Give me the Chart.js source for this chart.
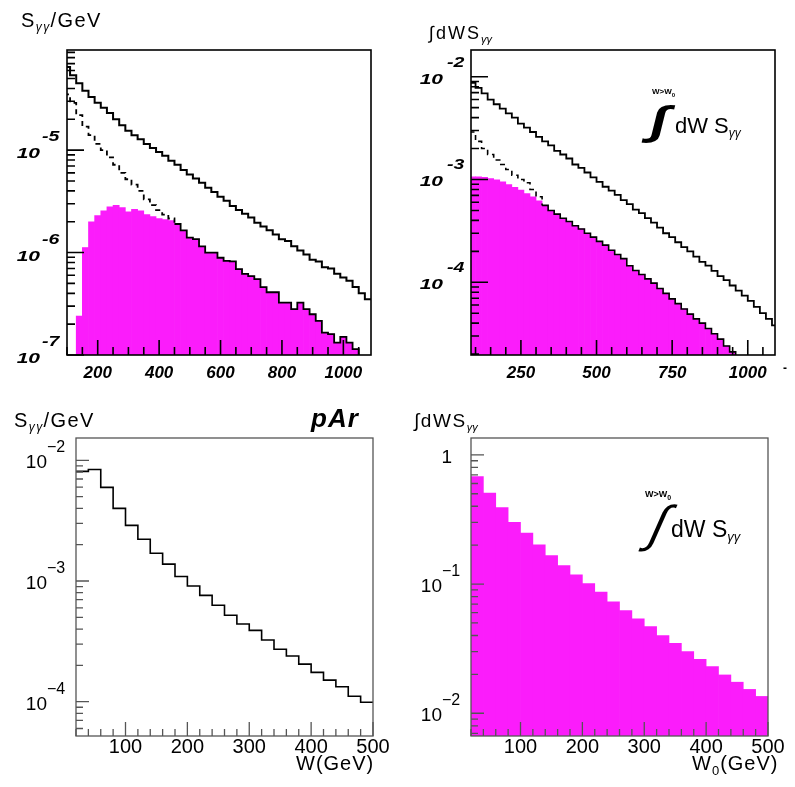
<!DOCTYPE html>
<html>
<head>
<meta charset="utf-8">
<script src="https://cdn.jsdelivr.net/npm/chart.js@4.4.1/dist/chart.umd.min.js"></script>
<style>
    body { margin: 0; background: #fff; }
    #page { position: relative; width: 795px; height: 787px; overflow: hidden; font-family: "Liberation Sans", Arial, sans-serif; }
    canvas { position: absolute; }
    .t { position: absolute; white-space: nowrap; line-height: 1; color: #000; }
    .sb { font-style: italic; position: relative; }
    .int { transform-origin: left top; }
</style>
</head>
<body>
<div id="page">
    <canvas id="c1" width="397" height="390" style="left:0;top:0"></canvas>
    <canvas id="c2" width="398" height="390" style="left:397px;top:0"></canvas>
    <canvas id="c3" width="397" height="397" style="left:0;top:390px"></canvas>
    <canvas id="c4" width="398" height="397" style="left:397px;top:390px"></canvas>

    <!-- titles -->
    <div class="t" style="left:21px;top:10px;font-size:20px;letter-spacing:1.4px">S<span class="sb" style="font-size:12px;top:4px">γγ</span>/GeV</div>
    <div class="t" style="left:429px;top:24px;font-size:18px;letter-spacing:2px">∫dWS<span class="sb" style="font-size:11px;top:4px;letter-spacing:0">γγ</span></div>
    <div class="t" style="left:14px;top:410px;font-size:20px;letter-spacing:1.4px">S<span class="sb" style="font-size:12px;top:4px">γγ</span>/GeV</div>
    <div class="t" style="left:311px;top:405px;font-size:26px;font-weight:bold;font-style:italic;letter-spacing:1px">pAr</div>
    <div class="t" style="left:414px;top:411px;font-size:19px;letter-spacing:1.6px">∫dWS<span class="sb" style="font-size:11px;top:4px;letter-spacing:0">γγ</span></div>

    <!-- integral annotations -->
    <div class="t" style="left:652px;top:88px;font-size:8px;font-weight:bold">W&gt;W<sub style="font-size:6px">0</sub></div>
    <div class="t int" style="left:656px;top:100px;font-size:40px;font-weight:bold;transform:skewX(-14deg) scaleX(1.5)">∫</div>
    <div class="t" style="left:675px;top:115px;font-size:22px">dW S<span class="sb" style="font-size:12px;top:4px">γγ</span></div>
    <div class="t" style="left:645px;top:490px;font-size:9px;font-weight:bold">W&gt;W<sub style="font-size:7px">0</sub></div>
    <div class="t int" style="left:664px;top:499px;font-size:50px;transform:skewX(-24deg)">∫</div>
    <div class="t" style="left:671px;top:518px;font-size:23px">dW S<span class="sb" style="font-size:13px;top:4px">γγ</span></div>

    <!-- x axis titles -->
    <div class="t" style="left:296px;top:753px;font-size:20px;letter-spacing:1px">W(GeV)</div>
    <div class="t" style="left:692px;top:753px;font-size:20px;letter-spacing:1px">W<sub style="font-size:13px">0</sub>(GeV)</div>
    <div class="t" style="left:783px;top:362px;font-size:12px;font-weight:bold">-</div>
</div>

<script>
// ---- top-left: S_gg / GeV, 20 GeV bins, first edge at 90 GeV
const p1Edge0 = 90;
const p1Bin = 20;
const p1XLabels = [200, 400, 600, 800, 1000];
const p1YExps = [-7, -6, -5];
const p1Solid = [6.5e-5, 5.4e-5, 4.5e-5, 3.8e-5, 3.3e-5, 2.9e-5, 2.6e-5, 2.3e-5, 2.0e-5, 1.75e-5,
    1.55e-5, 1.4e-5, 1.28e-5, 1.15e-5, 1.05e-5, 9.6e-6, 8.8e-6, 7.9e-6, 7.2e-6, 6.4e-6,
    5.8e-6, 5.3e-6, 4.8e-6, 4.3e-6, 3.9e-6, 3.5e-6, 3.2e-6, 2.85e-6, 2.6e-6, 2.4e-6,
    2.2e-6, 1.95e-6, 1.8e-6, 1.65e-6, 1.5e-6, 1.35e-6, 1.3e-6, 1.15e-6, 1.05e-6, 9.6e-7,
    8.5e-7, 8.2e-7, 7.2e-7, 7.0e-7, 6.2e-7, 5.7e-7, 5.3e-7, 4.6e-7, 4.0e-7, 3.5e-7];
// dashed curve where it sits above the filled one
const p1DashHead = [3.5e-5, 2.9e-5, 2.2e-5, 1.7e-5, 1.4e-5, 1.15e-5, 1.0e-5, 8.5e-6, 7.2e-6, 6.0e-6,
    5.2e-6, 4.6e-6, 4.0e-6, 3.3e-6, 2.9e-6, 2.6e-6, 2.35e-6, 2.15e-6];
const p1Fill = [null, null, 2.4e-7, 1.12e-6, 2.0e-6, 2.3e-6, 2.55e-6, 2.8e-6, 2.9e-6, 2.75e-6,
    2.5e-6, 2.65e-6, 2.55e-6, 2.35e-6, 2.25e-6, 2.15e-6, 2.1e-6, 2.05e-6, 1.9e-6, 1.65e-6,
    1.4e-6, 1.35e-6, 1.15e-6, 1.0e-6, 1.0e-6, 8.9e-7, 8.3e-7, 8.2e-7, 6.9e-7, 6.2e-7,
    5.9e-7, 5.5e-7, 4.6e-7, 4.1e-7, 4.1e-7, 3.25e-7, 3.25e-7, 2.8e-7, 3.25e-7, 2.8e-7,
    2.5e-7, 2.15e-7, 1.65e-7, 1.6e-7, 1.32e-7, 1.5e-7, 1.32e-7, 1.14e-7, null, null];

// ---- top-right: integral above W0, 20 GeV bins from 80 GeV
const p2Edge0 = 80;
const p2Bin = 20;
const p2XLabels = [250, 500, 750, 1000];
const p2YExps = [-4, -3, -2];
const p2Solid = [8.7e-3, 7.8e-3, 6.9e-3, 6.0e-3, 5.4e-3, 4.9e-3, 4.4e-3, 4.0e-3, 3.5e-3, 3.2e-3,
    2.9e-3, 2.6e-3, 2.35e-3, 2.15e-3, 1.9e-3, 1.75e-3, 1.6e-3, 1.4e-3, 1.3e-3, 1.17e-3,
    1.05e-3, 9.5e-4, 8.5e-4, 7.8e-4, 7.1e-4, 6.3e-4, 5.75e-4, 5.1e-4, 4.7e-4, 4.2e-4,
    3.8e-4, 3.4e-4, 3.0e-4, 2.75e-4, 2.45e-4, 2.2e-4, 2.0e-4, 1.78e-4, 1.58e-4, 1.45e-4,
    1.29e-4, 1.15e-4, 1.05e-4, 9.3e-5, 8.3e-5, 7.4e-5, 6.6e-5, 5.75e-5, 5.0e-5, 4.4e-5, 3.8e-5];
const p2DashHead = [2.9e-3, 2.35e-3, 2.0e-3, 1.75e-3, 1.55e-3, 1.4e-3, 1.25e-3, 1.1e-3, 1.0e-3, 9.3e-4,
    8.0e-4, 6.8e-4];
const p2Fill = [1.06e-3, 1.06e-3, 1.05e-3, 1.02e-3, 9.9e-4, 9.5e-4, 8.9e-4, 8.4e-4, 7.9e-4, 7.3e-4,
    6.8e-4, 6.2e-4, 5.6e-4, 5.0e-4, 4.6e-4, 4.2e-4, 3.9e-4, 3.55e-4, 3.3e-4, 3.0e-4,
    2.75e-4, 2.5e-4, 2.3e-4, 2.05e-4, 1.86e-4, 1.7e-4, 1.45e-4, 1.3e-4, 1.19e-4, 1.08e-4,
    9.8e-5, 8.7e-5, 7.8e-5, 6.9e-5, 6.2e-5, 5.5e-5, 4.9e-5, 4.4e-5, 4.0e-5, 3.55e-5,
    3.15e-5, 2.8e-5, 2.4e-5, 2.1e-5, null, null, null, null, null, null, null];

// ---- bottom row (pAr): 20 GeV bins from 20 to 500 GeV
const p3Edge0 = 20;
const p3Bin = 20;
const p3XLabels = [100, 200, 300, 400, 500];
const p3YExps = [-4, -3, -2];
const p3Solid = [8.1e-3, 8.4e-3, 5.97e-3, 4.0e-3, 2.89e-3, 2.22e-3, 1.70e-3, 1.38e-3, 1.09e-3, 9.1e-4,
    7.6e-4, 6.3e-4, 5.2e-4, 4.4e-4, 3.9e-4, 3.25e-4, 2.72e-4, 2.39e-4, 2.05e-4, 1.75e-4,
    1.51e-4, 1.33e-4, 1.11e-4, 9.9e-5];
const p4YExps = [-2, -1, 0];
const p4Fill = [0.68, 0.505, 0.39, 0.30, 0.248, 0.201, 0.166, 0.139, 0.118, 0.101,
    0.0865, 0.073, 0.0624, 0.0537, 0.0469, 0.0399, 0.0348, 0.030, 0.0262, 0.023,
    0.0198, 0.0174, 0.0153, 0.0135];

const MAGENTA = "#fb1cfb";
const OFF = 1e-12; // below every axis, the outline drops out of the frame

// points at bin edges for a stepped outline
function stepPoints(edge0, bin, vals) {
    const pts = vals.map((v, i) => ({ x: edge0 + i * bin, y: v ?? OFF }));
    pts.push({ x: edge0 + vals.length * bin, y: vals[vals.length - 1] ?? OFF });
    return pts;
}

// points at bin centres for filled bars
function barPoints(edge0, bin, vals) {
    return vals.map((v, i) => ({ x: edge0 + (i + 0.5) * bin, y: v }));
}

function outline(points, width, dashUntil) {
    return {
        type: "line",
        data: points,
        borderColor: "#000",
        borderWidth: width,
        pointRadius: 0,
        stepped: true,
        fill: false,
        order: 1,
        segment: dashUntil ? { borderDash: c => (c.p0DataIndex < dashUntil ? [5, 4] : undefined) } : undefined,
    };
}

function filled(points) {
    return {
        type: "bar",
        data: points,
        backgroundColor: MAGENTA,
        borderWidth: 0,
        barPercentage: 1,
        categoryPercentage: 1,
        order: 2,
    };
}

// ROOT-like axis styles for each pad
const topStyle = {
    color: "#000", width: 1.6, xMajorLen: 15, xMinorLen: 8, yMajorLen: 17, yMinorLen: 8,
    xFont: 'italic bold 17px "Liberation Sans"', xDy: 23,
    yFont: 'italic bold 15px "Liberation Sans"', expFont: 'italic bold 15px "Liberation Sans"',
    minus: "-", stretch: 1.4, expStretch: 1.3,
};
const bottomStyle = {
    color: "#555", width: 1.3, xMajorLen: 14, xMinorLen: 7, yMajorLen: 13, yMinorLen: 7,
    xFont: '20px "Liberation Sans"', xDy: 17,
    yFont: '19px "Liberation Sans"', expFont: '16px "Liberation Sans"', minus: "\u2212",
    stretch: 1, expStretch: 1,
    yRight: 29, expLeft: 29, yDy: 8, expDy: -8, oneRight: 19,
};
const axisStyle = {
    c1: { ...topStyle, xLabels: p1XLabels, xMinor: 50, yExps: p1YExps, yRight: 27, expLeft: 25, yDy: 8, expDy: -9 },
    c2: { ...topStyle, xLabels: p2XLabels, xMinor: 50, yExps: p2YExps, yRight: 28, expLeft: 24, yDy: 7, expDy: -10 },
    c3: { ...bottomStyle, xLabels: p3XLabels, xMinor: 20, yExps: p3YExps },
    c4: { ...bottomStyle, xLabels: p3XLabels, xMinor: 20, yExps: p4YExps },
};

// text stretched horizontally like the scanned ROOT labels
function wideText(ctx, text, x, y, align, stretch) {
    const w = ctx.measureText(text).width * stretch;
    const left = align === "right" ? x - w : x;
    ctx.save();
    ctx.textAlign = "left";
    ctx.translate(left, y);
    ctx.scale(stretch, 1);
    ctx.fillText(text, 0, 0);
    ctx.restore();
}

// frame, inward ticks and labels, placed through the chart's scales
const rootAxes = {
    id: "rootAxes",
    afterDraw(chart) {
        const c = axisStyle[chart.canvas.id];
        const { ctx, chartArea: a, scales: { x, y } } = chart;
        ctx.save();
        ctx.strokeStyle = c.color;
        ctx.lineWidth = c.width;
        ctx.beginPath();
        const first = Math.ceil(x.min / c.xMinor) * c.xMinor;
        for (let v = first; v <= x.max; v += c.xMinor) {
            const px = x.getPixelForValue(v);
            const len = c.xLabels.includes(v) ? c.xMajorLen : c.xMinorLen;
            ctx.moveTo(px, a.bottom);
            ctx.lineTo(px, a.bottom - len);
        }
        for (let e = Math.floor(Math.log10(y.min)); e <= Math.ceil(Math.log10(y.max)); e++) {
            for (let s = 1; s <= 9; s++) {
                const v = s * Math.pow(10, e);
                if (v < y.min * 0.999 || v > y.max) continue;
                const py = y.getPixelForValue(v);
                ctx.moveTo(a.left, py);
                ctx.lineTo(a.left + (s === 1 ? c.yMajorLen : c.yMinorLen), py);
            }
        }
        ctx.stroke();
        ctx.strokeRect(a.left, a.top, a.right - a.left, a.bottom - a.top);

        ctx.fillStyle = "#000";
        ctx.textBaseline = "alphabetic";
        ctx.font = c.xFont;
        ctx.textAlign = "center";
        c.xLabels.forEach(v => ctx.fillText(String(v), x.getPixelForValue(v), a.bottom + c.xDy));
        c.yExps.forEach(e => {
            const py = y.getPixelForValue(Math.pow(10, e));
            ctx.font = c.yFont;
            if (e === 0) {
                wideText(ctx, "1", a.left - c.oneRight, py + c.yDy, "right", c.stretch);
                return;
            }
            wideText(ctx, "10", a.left - c.yRight, py + c.yDy, "right", c.stretch);
            ctx.font = c.expFont;
            wideText(ctx, c.minus + Math.abs(e), a.left - c.expLeft, py + c.expDy, "left", c.expStretch);
        });
        ctx.restore();
    },
};

function makeChart(id, pad, xMin, xMax, yMin, yMax, xTicks, datasets) {
    return new Chart(document.getElementById(id), {
        type: "bar",
        data: { datasets: datasets },
        options: {
            responsive: false,
            animation: false,
            events: [],
            layout: { padding: pad },
            plugins: { legend: { display: false }, tooltip: { enabled: false } },
            scales: {
                x: {
                    type: "linear", display: false, offset: false, min: xMin, max: xMax,
                    afterBuildTicks: s => { s.ticks = xTicks.map(v => ({ value: v })); },
                },
                y: { type: "logarithmic", display: false, min: yMin, max: yMax },
            },
        },
        plugins: [rootAxes],
    });
}

document.addEventListener("DOMContentLoaded", () => {
    // top-left
    const p1Dash = p1DashHead.concat(p1Fill.slice(p1DashHead.length));
    makeChart("c1", { left: 67, top: 50, right: 26, bottom: 35 }, 100, 1090, 1e-7, 9.5e-5, p1XLabels, [
        outline(stepPoints(p1Edge0, p1Bin, p1Solid), 2),
        outline(stepPoints(p1Edge0, p1Bin, p1Dash), 1.8, p1DashHead.length),
        filled(barPoints(p1Edge0, p1Bin, p1Fill)),
    ]);

    // top-right
    const p2Dash = p2DashHead.concat(p2Fill.slice(p2DashHead.length));
    makeChart("c2", { left: 74, top: 50, right: 20, bottom: 35 }, 85, 1090, 1.96e-5, 1.82e-2, p2XLabels, [
        outline(stepPoints(p2Edge0, p2Bin, p2Solid), 1.8),
        outline(stepPoints(p2Edge0, p2Bin, p2Dash), 1.6, p2DashHead.length),
        filled(barPoints(p2Edge0, p2Bin, p2Fill)),
    ]);

    // bottom-left
    makeChart("c3", { left: 76, top: 48, right: 24, bottom: 51 }, 20, 500, 5.2e-5, 1.53e-2, p3XLabels, [
        outline(stepPoints(p3Edge0, p3Bin, p3Solid), 1.6),
    ]);

    // bottom-right
    makeChart("c4", { left: 74, top: 48, right: 27, bottom: 51 }, 20, 500, 6.67e-3, 1.35, p3XLabels, [
        filled(barPoints(p3Edge0, p3Bin, p4Fill)),
    ]);
});
</script>
</body>
</html>
